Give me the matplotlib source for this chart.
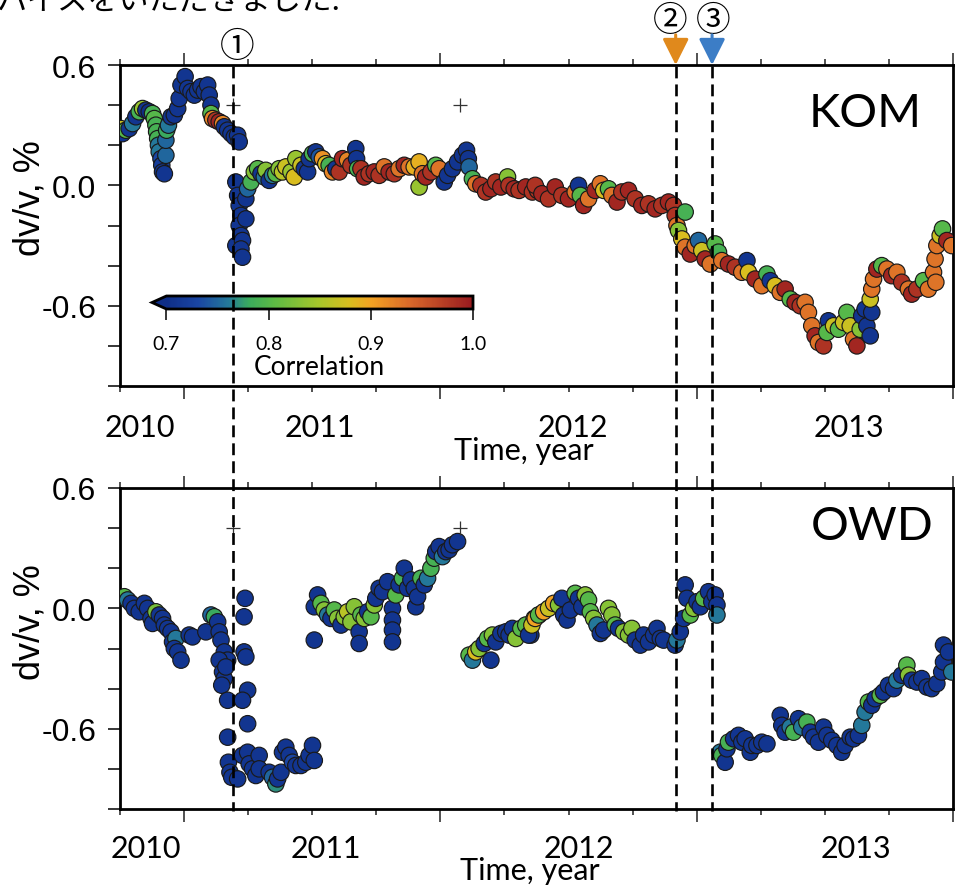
import matplotlib
matplotlib.use('Agg')
import matplotlib.pyplot as plt
import numpy as np
from matplotlib.colors import LinearSegmentedColormap, Normalize
from matplotlib.lines import Line2D
import matplotlib.transforms as mtransforms
from matplotlib.ticker import FixedLocator, NullFormatter

# ---------------- data ----------------
# KOM: time (decimal year), dv/v (%), correlation
kom_t = [2010.754, 2010.760, 2010.773, 2010.786, 2010.799, 2010.812, 2010.825, 2010.838, 2010.851, 2010.864,
         2010.877, 2010.884, 2010.890, 2010.893, 2010.897, 2010.900, 2010.903, 2010.910, 2010.913, 2010.916,
         2010.923, 2010.929, 2010.929, 2010.932, 2010.939, 2010.949, 2010.962, 2010.975, 2010.981, 2010.988,
         2011.004, 2011.014, 2011.027, 2011.040, 2011.053, 2011.066, 2011.079, 2011.092, 2011.098, 2011.105,
         2011.105, 2011.111, 2011.124, 2011.137, 2011.150, 2011.157, 2011.170, 2011.183, 2011.196, 2011.209,
         2011.215,
         2011.202, 2011.209, 2011.215, 2011.222, 2011.215, 2011.222, 2011.202, 2011.228, 2011.222, 2011.228,
         2011.241, 2011.241, 2011.248, 2011.261, 2011.274, 2011.287, 2011.300, 2011.313, 2011.319, 2011.332,
         2011.345, 2011.358, 2011.371, 2011.384, 2011.397, 2011.417, 2011.430, 2011.436, 2011.456, 2011.469,
         2011.482, 2011.488, 2011.501, 2011.514, 2011.527, 2011.540, 2011.553, 2011.566, 2011.579, 2011.592,
         2011.605, 2011.618, 2011.638, 2011.651, 2011.670, 2011.673, 2011.677, 2011.690, 2011.703, 2011.722,
         2011.742, 2011.761, 2011.781, 2011.800, 2011.820, 2011.839, 2011.859, 2011.878, 2011.898, 2011.917,
         2011.917, 2011.930, 2011.943, 2011.963, 2011.982, 2011.995, 2012.015, 2012.028, 2012.047, 2012.067,
         2012.086, 2012.102, 2012.109, 2012.112, 2012.125, 2012.138, 2012.158, 2012.177, 2012.197, 2012.216,
         2012.236, 2012.262, 2012.268, 2012.288, 2012.307, 2012.333, 2012.359, 2012.379,
         2012.370, 2012.396, 2012.422, 2012.448, 2012.474, 2012.500, 2012.526, 2012.539, 2012.546, 2012.559,
         2012.578, 2012.604, 2012.624, 2012.637, 2012.656, 2012.669, 2012.689, 2012.708, 2012.734, 2012.760,
         2012.786, 2012.812, 2012.838, 2012.864, 2012.890, 2012.910, 2012.916, 2012.923, 2012.929, 2012.955,
         2012.942, 2012.955, 2012.975, 2012.994, 2013.007, 2013.020, 2013.033, 2013.053, 2013.072, 2013.085,
         2013.098, 2013.124, 2013.150, 2013.176, 2013.196, 2013.202, 2013.228, 2013.254, 2013.274, 2013.287,
         2013.306, 2013.326, 2013.345, 2013.365, 2013.384, 2013.404, 2013.423, 2013.436, 2013.449, 2013.462,
         2013.475, 2013.495, 2013.514, 2013.508, 2013.534, 2013.553, 2013.573, 2013.586, 2013.599, 2013.612,
         2013.625, 2013.638, 2013.644, 2013.657, 2013.664, 2013.677, 2013.683, 2013.677, 2013.683, 2013.690,
         2013.703, 2013.722, 2013.742, 2013.761, 2013.781, 2013.800, 2013.826, 2013.839, 2013.859, 2013.885,
         2013.904, 2013.924, 2013.933, 2013.930, 2013.937, 2013.950, 2013.959, 2013.976, 2013.995]
kom_dv = [0.283, 0.258, 0.275, 0.283, 0.308, 0.342, 0.367, 0.383, 0.375, 0.367,
          0.358, 0.333, 0.300, 0.267, 0.233, 0.200, 0.167, 0.133, 0.100, 0.067,
          0.058, 0.150, 0.225, 0.275, 0.300, 0.342, 0.350, 0.383, 0.433, 0.500,
          0.542, 0.483, 0.467, 0.450, 0.475, 0.492, 0.467, 0.500, 0.450, 0.400,
          0.358, 0.333, 0.325, 0.317, 0.308, 0.292, 0.275, 0.258, 0.242, 0.250,
          0.217,
          0.017, -0.050, -0.100, -0.150, -0.200, -0.250, -0.300, -0.275, -0.317, -0.358,
          -0.167, -0.067, -0.017, 0.017, 0.067, 0.083, 0.058, 0.042, 0.075, 0.025,
          0.050, 0.058, 0.083, 0.067, 0.092, 0.067, 0.042, 0.133, 0.100, 0.083,
          0.067, 0.133, 0.158, 0.167, 0.142, 0.133, 0.108, 0.100, 0.067, 0.083,
          0.067, 0.133, 0.125, 0.100, 0.183, 0.133, 0.083, 0.083, 0.042, 0.058,
          0.067, 0.050, 0.092, 0.067, 0.058, 0.083, 0.100, 0.092, 0.092, 0.117,
          -0.008, 0.058, 0.042, 0.067, 0.100, 0.083, 0.017, 0.050, 0.083, 0.117,
          0.150, 0.175, 0.133, 0.092, 0.033, 0.008, 0.000, -0.033, -0.017, 0.017,
          -0.008, 0.042, 0.000, -0.017, -0.025, -0.008, -0.033, -0.025,
          0.000, -0.042, -0.067, -0.008, -0.050, -0.067, -0.033, 0.000, -0.050, -0.100,
          -0.067, -0.025, 0.008, -0.025, -0.017, -0.050, -0.083, -0.033, -0.025, -0.067,
          -0.100, -0.092, -0.117, -0.100, -0.083, -0.100, -0.150, -0.200, -0.225, -0.133,
          -0.267, -0.308, -0.342, -0.300, -0.275, -0.325, -0.367, -0.392, -0.292, -0.333,
          -0.375, -0.392, -0.408, -0.433, -0.375, -0.433, -0.467, -0.500, -0.442, -0.475,
          -0.500, -0.533, -0.517, -0.567, -0.583, -0.600, -0.583, -0.633, -0.700, -0.750,
          -0.783, -0.800, -0.675, -0.733, -0.700, -0.717, -0.683, -0.633, -0.700, -0.767,
          -0.800, -0.717, -0.650, -0.617, -0.700, -0.750, -0.633, -0.567, -0.517, -0.467,
          -0.417, -0.400, -0.417, -0.450, -0.433, -0.483, -0.517, -0.542, -0.517, -0.475,
          -0.517, -0.433, -0.483, -0.367, -0.300, -0.250, -0.217, -0.275, -0.300]
kom_r = [0.87, 0.71, 0.80, 0.71, 0.76, 0.71, 0.79, 0.84, 0.71, 0.70,
         0.79, 0.80, 0.79, 0.79, 0.79, 0.76, 0.76, 0.73, 0.72, 0.71,
         0.71, 0.75, 0.75, 0.78, 0.76, 0.71, 0.71, 0.71, 0.71, 0.71,
         0.71, 0.71, 0.71, 0.71, 0.71, 0.71, 0.71, 0.71, 0.71, 0.71,
         0.80, 0.92, 0.98, 0.99, 0.92, 0.71, 0.71, 0.71, 0.71, 0.71,
         0.71,
         0.71, 0.71, 0.71, 0.71, 0.71, 0.71, 0.71, 0.71, 0.71, 0.71,
         0.71, 0.71, 0.75, 0.79, 0.83, 0.80, 0.71, 0.76, 0.83, 0.71,
         0.76, 0.80, 0.83, 0.86, 0.87, 0.84, 0.88, 0.84, 0.87, 0.71,
         0.71, 0.71, 0.79, 0.71, 0.74, 0.91, 0.88, 0.79, 0.92, 0.71,
         0.98, 0.99, 0.92, 0.98, 0.71, 0.71, 0.79, 0.98, 0.99, 0.98,
         0.99, 0.98, 0.93, 0.99, 0.98, 0.93, 0.99, 0.93, 0.89, 0.89,
         0.84, 0.93, 0.99, 0.98, 0.80, 0.93, 0.71, 0.71, 0.71, 0.71,
         0.71, 0.71, 0.71, 0.75, 0.79, 0.93, 0.98, 0.98, 0.99, 0.98,
         0.99, 0.83, 0.98, 0.99, 0.98, 0.99, 0.98, 0.98,
         0.98, 0.99, 0.98, 0.99, 0.98, 0.99, 0.93, 0.71, 0.80, 0.99,
         0.93, 0.99, 0.93, 0.88, 0.80, 0.93, 0.99, 0.98, 0.99, 0.98,
         0.99, 0.98, 0.99, 0.98, 0.99, 0.98, 0.98, 0.93, 0.83, 0.79,
         0.88, 0.93, 0.99, 0.93, 0.75, 0.87, 0.99, 0.93, 0.80, 0.79,
         0.93, 0.99, 0.98, 0.93, 0.71, 0.88, 0.99, 0.93, 0.79, 0.71,
         0.88, 0.93, 0.99, 0.80, 0.99, 0.98, 0.93, 0.93, 0.93, 0.99,
         0.93, 0.98, 0.71, 0.80, 0.87, 0.80, 0.87, 0.80, 0.87, 0.93,
         0.99, 0.83, 0.71, 0.71, 0.71, 0.71, 0.71, 0.87, 0.93, 0.93,
         0.99, 0.80, 0.93, 0.99, 0.93, 0.98, 0.93, 0.99, 0.98, 0.80,
         0.93, 0.93, 0.93, 0.93, 0.93, 0.87, 0.80, 0.99, 0.93]

# OWD: time (decimal year), dv/v (%), correlation
owd_t = [2010.767, 2010.780, 2010.793, 2010.806, 2010.825, 2010.845, 2010.858, 2010.871, 2010.877, 2010.890,
         2010.903, 2010.916, 2010.923, 2010.936, 2010.949, 2010.955, 2010.968, 2010.962, 2010.975, 2010.988,
         2011.020, 2011.033, 2011.085, 2011.105, 2011.118, 2011.131, 2011.137, 2011.144, 2011.157, 2011.170,
         2011.137, 2011.150, 2011.157, 2011.147, 2011.163, 2011.170, 2011.170, 2011.173, 2011.179, 2011.186,
         2011.209, 2011.238, 2011.234, 2011.234, 2011.241, 2011.248, 2011.228, 2011.248, 2011.228, 2011.248,
         2011.254, 2011.267, 2011.280, 2011.293, 2011.293, 2011.332, 2011.345, 2011.358, 2011.365, 2011.378,
         2011.384, 2011.397, 2011.410, 2011.423, 2011.436, 2011.456, 2011.475, 2011.488, 2011.501, 2011.508,
         2011.508, 2011.521, 2011.508, 2011.534, 2011.547, 2011.560, 2011.573, 2011.586, 2011.599, 2011.612,
         2011.625, 2011.638, 2011.651, 2011.664, 2011.683, 2011.683, 2011.690, 2011.703, 2011.716, 2011.729,
         2011.742, 2011.748, 2011.761, 2011.774, 2011.794, 2011.813, 2011.813, 2011.813, 2011.813, 2011.826,
         2011.839, 2011.852, 2011.859, 2011.872, 2011.885, 2011.898, 2011.904, 2011.911, 2011.924, 2011.937,
         2011.950, 2011.963, 2011.976, 2011.982, 2011.995, 2012.008, 2012.021, 2012.034, 2012.047, 2012.067,
         2012.112, 2012.125, 2012.138, 2012.151, 2012.171, 2012.184, 2012.197, 2012.203, 2012.216, 2012.236,
         2012.255, 2012.268, 2012.281, 2012.294, 2012.314, 2012.333, 2012.353, 2012.366, 2012.385,
         2012.344, 2012.357, 2012.370, 2012.383, 2012.403, 2012.422, 2012.442, 2012.461, 2012.474, 2012.481,
         2012.494, 2012.507, 2012.526, 2012.539, 2012.552, 2012.565, 2012.578, 2012.585, 2012.598, 2012.611,
         2012.624, 2012.637, 2012.656, 2012.669, 2012.682, 2012.695, 2012.715, 2012.734, 2012.747, 2012.760,
         2012.780, 2012.793, 2012.812, 2012.832, 2012.845, 2012.858, 2012.871,
         2012.916, 2012.923, 2012.936, 2012.949, 2012.955, 2012.962, 2012.975, 2012.988, 2013.001, 2013.014,
         2013.027, 2013.046, 2013.059, 2013.072, 2013.079, 2013.079,
         2013.092, 2013.098, 2013.111, 2013.118, 2013.124, 2013.144, 2013.163, 2013.176, 2013.189, 2013.209,
         2013.215, 2013.235, 2013.254, 2013.274,
         2013.326, 2013.332, 2013.345, 2013.365, 2013.378, 2013.397, 2013.410, 2013.430, 2013.443, 2013.456,
         2013.475, 2013.495, 2013.508, 2013.527, 2013.547, 2013.566, 2013.579, 2013.599, 2013.612, 2013.631,
         2013.644, 2013.657, 2013.670, 2013.683, 2013.696, 2013.716, 2013.729, 2013.748, 2013.768, 2013.781,
         2013.800, 2013.820, 2013.826, 2013.839, 2013.859, 2013.878, 2013.898, 2013.917, 2013.937, 2013.956,
         2013.963, 2013.963, 2013.982, 2013.995]
owd_dv = [0.058, 0.042, 0.025, 0.000, -0.017, 0.025, 0.000, -0.050, -0.075, -0.017,
          -0.033, -0.050, -0.083, -0.100, -0.117, -0.167, -0.150, -0.200, -0.217, -0.258,
          -0.133, -0.142, -0.117, -0.033, -0.042, -0.067, -0.117, -0.158, -0.217, -0.258,
          -0.258, -0.317, -0.350, -0.383, -0.292, -0.458, -0.642, -0.767, -0.817, -0.842,
          -0.850, 0.050, -0.042, -0.217, -0.242, -0.408, -0.458, -0.575, -0.733, -0.717,
          -0.775, -0.800, -0.833, -0.733, -0.800, -0.817, -0.842, -0.875, -0.850, -0.817,
          -0.717, -0.692, -0.733, -0.767, -0.783, -0.783, -0.767, -0.733, -0.683, -0.758,
          0.008, 0.067, -0.158, 0.025, -0.008, -0.033, -0.050, -0.008, -0.050, -0.083,
          -0.042, -0.017, -0.067, 0.008, -0.117, -0.175, -0.033, -0.050, -0.017, -0.042,
          0.017, 0.050, 0.100, 0.083, 0.133, 0.000, -0.058, -0.108, -0.167, 0.067,
          0.117, 0.150, 0.200, 0.100, 0.142, 0.100, 0.008, 0.058, 0.150, 0.117,
          0.150, 0.200, 0.250, 0.283, 0.308, 0.258, 0.283, 0.292, 0.317, 0.333,
          -0.233, -0.258, -0.217, -0.200, -0.175, -0.150, -0.258, -0.133, -0.167, -0.125,
          -0.117, -0.133, -0.100, -0.150, -0.100, -0.083, -0.133, -0.050, -0.033,
          -0.133, -0.083, -0.050, -0.033, -0.017, 0.000, 0.025, 0.017, 0.050, -0.033,
          -0.058, -0.008, 0.075, 0.050, 0.008, 0.067, 0.042, -0.017, -0.050, -0.083,
          -0.125, -0.108, 0.000, -0.033, -0.083, -0.100, -0.117, -0.133, -0.100, -0.158,
          -0.183, -0.133, -0.167, -0.133, -0.100, -0.150, -0.158,
          -0.183, -0.158, -0.117, -0.050, 0.117, 0.050, -0.033, 0.000, 0.033, 0.008,
          0.050, 0.083, 0.033, 0.067, 0.017, -0.033,
          -0.717, -0.733, -0.767, -0.700, -0.667, -0.650, -0.633, -0.667, -0.650, -0.717,
          -0.683, -0.683, -0.667, -0.675,
          -0.533, -0.583, -0.617, -0.592, -0.617, -0.550, -0.592, -0.567, -0.617, -0.642,
          -0.667, -0.592, -0.633, -0.658, -0.683, -0.717, -0.683, -0.642, -0.650, -0.633,
          -0.583, -0.517, -0.467, -0.483, -0.450, -0.433, -0.417, -0.383, -0.400, -0.358,
          -0.333, -0.283, -0.333, -0.358, -0.367, -0.350, -0.392, -0.400, -0.375, -0.317,
          -0.267, -0.183, -0.217, -0.317]
owd_r = [0.80, 0.76, 0.71, 0.71, 0.71, 0.71, 0.71, 0.71, 0.71, 0.82,
         0.71, 0.71, 0.71, 0.71, 0.71, 0.71, 0.76, 0.71, 0.71, 0.71,
         0.71, 0.71, 0.71, 0.75, 0.78, 0.71, 0.71, 0.71, 0.71, 0.71,
         0.71, 0.71, 0.71, 0.71, 0.71, 0.71, 0.71, 0.71, 0.71, 0.71,
         0.71, 0.71, 0.71, 0.71, 0.71, 0.71, 0.71, 0.71, 0.71, 0.71,
         0.71, 0.71, 0.71, 0.71, 0.71, 0.71, 0.75, 0.77, 0.71, 0.71,
         0.71, 0.71, 0.71, 0.73, 0.71, 0.71, 0.71, 0.71, 0.71, 0.71,
         0.71, 0.71, 0.71, 0.80, 0.83, 0.76, 0.71, 0.80, 0.83, 0.71,
         0.83, 0.86, 0.83, 0.83, 0.71, 0.71, 0.80, 0.83, 0.71, 0.80,
         0.83, 0.71, 0.71, 0.71, 0.71, 0.71, 0.71, 0.71, 0.71, 0.80,
         0.71, 0.79, 0.71, 0.71, 0.71, 0.71, 0.71, 0.71, 0.79, 0.71,
         0.76, 0.79, 0.79, 0.71, 0.71, 0.76, 0.71, 0.71, 0.71, 0.71,
         0.80, 0.76, 0.88, 0.83, 0.71, 0.80, 0.71, 0.83, 0.71, 0.71,
         0.71, 0.71, 0.71, 0.83, 0.80, 0.80, 0.71, 0.86, 0.90,
         0.71, 0.87, 0.90, 0.80, 0.90, 0.87, 0.90, 0.83, 0.71, 0.71,
         0.71, 0.71, 0.80, 0.71, 0.71, 0.83, 0.80, 0.80, 0.83, 0.76,
         0.71, 0.71, 0.83, 0.83, 0.80, 0.71, 0.83, 0.83, 0.83, 0.71,
         0.71, 0.71, 0.71, 0.71, 0.71, 0.71, 0.71,
         0.71, 0.76, 0.71, 0.71, 0.71, 0.71, 0.80, 0.83, 0.71, 0.71,
         0.80, 0.71, 0.71, 0.71, 0.71, 0.76,
         0.76, 0.79, 0.71, 0.71, 0.79, 0.71, 0.71, 0.71, 0.71, 0.71,
         0.71, 0.71, 0.71, 0.71,
         0.71, 0.71, 0.71, 0.76, 0.79, 0.71, 0.76, 0.79, 0.71, 0.71,
         0.71, 0.71, 0.71, 0.71, 0.71, 0.71, 0.71, 0.71, 0.71, 0.71,
         0.76, 0.76, 0.80, 0.71, 0.71, 0.80, 0.71, 0.71, 0.71, 0.76,
         0.71, 0.80, 0.83, 0.71, 0.71, 0.71, 0.71, 0.71, 0.71, 0.71,
         0.71, 0.71, 0.71, 0.76]

events = [2011.191, 2012.918, 2013.060]
event_marks = ['\u2460', '\u2461', '\u2462']
event_colors = [None, '#E0891C', '#3C7DC6']
plus_t = [2011.191, 2012.075]
plus_dv = [0.4, 0.4]
year_labels = ['2010', '2011', '2012', '2013']
year_pos_top = [2010.828, 2011.529, 2012.515, 2013.595]
year_pos_bot = [2010.851, 2011.553, 2012.539, 2013.622]
ytick_vals = [0.6, 0.0, -0.6]
ytick_labels = ['0.6', '0.0', '-0.6']
cbar_ticks = [0.7, 0.8, 0.9, 1.0]

# ---------------- styling ----------------
plt.rcParams['font.family'] = ['Lato', 'DejaVu Sans']
W, H = 956, 887
fig = plt.figure(figsize=(W / 100, H / 100), dpi=100)
ax1 = fig.add_axes([120 / W, 1 - 387 / H, 833 / W, 321 / H])
ax2 = fig.add_axes([120 / W, 1 - 810 / H, 833 / W, 321 / H])

cmap = LinearSegmentedColormap.from_list('corr', [
    (0.00, '#0f2e88'), (0.10, '#1a45a3'), (0.20, '#24789a'), (0.27, '#3bac5c'),
    (0.35, '#5dbb45'), (0.50, '#a9c72a'), (0.60, '#d9bd1f'), (0.67, '#f2a123'),
    (0.80, '#d8662a'), (1.00, '#981a1f')])
cmap.set_under('#0f2e88')
norm = Normalize(vmin=0.7, vmax=1.0)

yfont = dict(family='Liberation Sans', size=23)

for ax, t, dv, r, name, name_x, name_base, ypos, ybase, tl_base, tl_x in [
        (ax1, kom_t, kom_dv, kom_r, 'KOM', 0.894, 0.81, year_pos_top, -0.1558, -0.2274, 0.485),
        (ax2, owd_t, owd_dv, owd_r, 'OWD', 0.903, 0.841, year_pos_bot, -0.1495, -0.218, 0.492)]:
    sc = ax.scatter(t, dv, c=r, cmap=cmap, norm=norm, s=140,
                    edgecolors='#1a1a1a', linewidths=0.85, zorder=3)
    ax.plot(plus_t, plus_dv, ls='none', marker='+', ms=10, mew=0.9, color='#333333', zorder=4)
    ax.set_xlim(2010.75, 2014.0)
    ax.set_ylim(-1.0, 0.6)
    for s in ax.spines.values():
        s.set_linewidth(2.0)
    ax.xaxis.set_major_locator(FixedLocator([2011, 2012, 2013, 2014]))
    ax.xaxis.set_minor_locator(FixedLocator([2010.75, 2011.25, 2011.5, 2011.75, 2012.25, 2012.5,
                                             2012.75, 2013.25, 2013.5, 2013.75]))
    ax.xaxis.set_major_formatter(NullFormatter())
    ax.tick_params(axis='x', which='major', direction='out', length=9, width=1.1,
                   top=True, bottom=True, colors='#222222')
    ax.tick_params(axis='x', which='minor', direction='out', length=4, width=1.1,
                   top=True, bottom=True, colors='#222222')
    ax.yaxis.set_major_locator(FixedLocator(ytick_vals))
    ax.set_yticklabels(ytick_labels, **yfont)
    ax.yaxis.set_minor_locator(FixedLocator([0.4, 0.2, -0.2, -0.4, -0.8, -1.0]))
    ax.tick_params(axis='y', which='both', direction='out', length=9, width=1.1,
                   left=True, right=False, pad=8)
    tr = mtransforms.blended_transform_factory(ax.transData, ax.transAxes)
    for lab, p in zip(year_labels, ypos):
        ax.text(p, ybase, lab, transform=tr, ha='center', va='baseline', fontsize=22, clip_on=False)
    ax.text(tl_x, tl_base, 'Time, year', transform=ax.transAxes, ha='center', va='baseline',
            fontsize=22)
    ax.text(name_x, name_base, name, transform=ax.transAxes, ha='center', va='baseline',
            fontsize=34)

# y labels
fig.text(30 / W, 1 - 198 / H, 'dv/v, %', rotation=90, ha='center', va='center',
         family='Liberation Sans', fontsize=26)
fig.text(30 / W, 1 - 622 / H, 'dv/v, %', rotation=90, ha='center', va='center',
         family='Liberation Sans', fontsize=26)

# colorbar inside top panel
cax = ax1.inset_axes([32 / 833, 77 / 321, 321 / 833, 13 / 321])
cb = fig.colorbar(ax1.collections[0], cax=cax, orientation='horizontal', extend='min',
                  extendfrac=0.047, ticks=cbar_ticks)
cb.outline.set_linewidth(2.0)
cb.ax.tick_params(direction='out', length=8, width=1.1, pad=11, labelsize=14)
cb.ax.set_xticklabels(['0.7', '0.8', '0.9', '1.0'])
cb.set_label('Correlation', fontsize=19, labelpad=1)

# event dashed lines spanning both panels
ftr = mtransforms.blended_transform_factory(ax1.transData, fig.transFigure)
for e in events:
    fig.add_artist(Line2D([e, e], [1 - 67 / H, 1 - 812 / H], transform=ftr, color='black',
                          lw=1.9, ls=(0, (4.5, 2.3)), zorder=5))

atr = mtransforms.blended_transform_factory(ax1.transData, ax1.transAxes)
cjk = ['Noto Sans CJK JP', 'DejaVu Sans']
ax1.text(events[0] + 0.016, 1.059, event_marks[0], transform=atr, ha='center', va='center',
         fontsize=25, family=cjk, clip_on=False)
ax1.text(events[1] - 0.020, 1.14, event_marks[1], transform=atr, ha='center', va='center',
         fontsize=25, family=cjk, clip_on=False)
ax1.text(events[2] + 0.004, 1.14, event_marks[2], transform=atr, ha='center', va='center',
         fontsize=25, family=cjk, clip_on=False)
for e, c in zip(events[1:], event_colors[1:]):
    ax1.annotate('', xy=(e, 1.0), xycoords=atr, xytext=(e, 1.094), textcoords=atr,
                 arrowprops=dict(arrowstyle='-|>,head_length=0.8,head_width=0.4', color=c,
                                 lw=2.2, shrinkA=0, shrinkB=0, mutation_scale=20),
                 annotation_clip=False)

# cut-off caption line at the very top
fig.text(-4 / W, 1 - 9 / H, 'バイスをいただきました.', fontsize=22, family=cjk,
         ha='left', va='baseline')

fig.savefig('out.png', dpi=100)
